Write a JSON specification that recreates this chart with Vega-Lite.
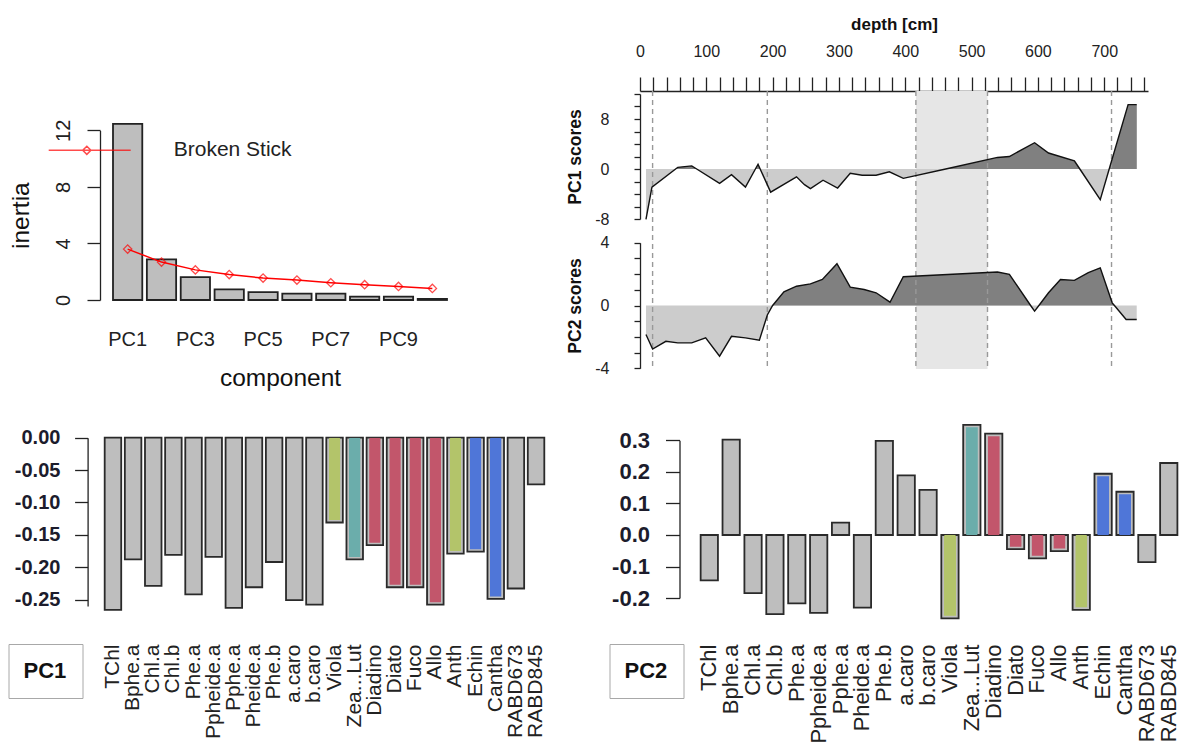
{
  "$schema": "https://vega.github.io/schema/vega-lite/v6.json",
  "background": "white",
  "padding": {"left": 7, "top": 15, "right": 0, "bottom": 0},
  "columns": 2,
  "align": "each",
  "bounds": "flush",
  "spacing": {"row": 54, "column": 91},
  "resolve": {
    "scale": {"shape": "independent", "color": "independent"},
    "legend": {"shape": "independent", "color": "independent"}
  },
  "datasets": {
    "scree": [
      {"component": "PC1", "inertia": 12.45, "bstick": 3.6},
      {"component": "PC2", "inertia": 2.87, "bstick": 2.68},
      {"component": "PC3", "inertia": 1.62, "bstick": 2.13},
      {"component": "PC4", "inertia": 0.75, "bstick": 1.8},
      {"component": "PC5", "inertia": 0.56, "bstick": 1.55},
      {"component": "PC6", "inertia": 0.45, "bstick": 1.41},
      {"component": "PC7", "inertia": 0.45, "bstick": 1.22},
      {"component": "PC8", "inertia": 0.24, "bstick": 1.08},
      {"component": "PC9", "inertia": 0.24, "bstick": 0.96},
      {"component": "PC10", "inertia": 0.08, "bstick": 0.82}
    ],
    "load": [
      {"pigment": "TChl", "pc1": -0.266, "pc2": -0.144, "type": "other"},
      {"pigment": "Bphe.a", "pc1": -0.188, "pc2": 0.302, "type": "other"},
      {"pigment": "Chl.a", "pc1": -0.229, "pc2": -0.184, "type": "other"},
      {"pigment": "Chl.b", "pc1": -0.181, "pc2": -0.251, "type": "other"},
      {"pigment": "Phe.a", "pc1": -0.242, "pc2": -0.217, "type": "other"},
      {"pigment": "Ppheide.a", "pc1": -0.184, "pc2": -0.247, "type": "other"},
      {"pigment": "Pphe.a", "pc1": -0.263, "pc2": 0.039, "type": "other"},
      {"pigment": "Pheide.a", "pc1": -0.231, "pc2": -0.23, "type": "other"},
      {"pigment": "Phe.b", "pc1": -0.192, "pc2": 0.298, "type": "other"},
      {"pigment": "a.caro", "pc1": -0.251, "pc2": 0.189, "type": "other"},
      {"pigment": "b.caro", "pc1": -0.258, "pc2": 0.143, "type": "other"},
      {"pigment": "Viola", "pc1": -0.131, "pc2": -0.264, "type": "A"},
      {"pigment": "Zea...Lut", "pc1": -0.188, "pc2": 0.349, "type": "B"},
      {"pigment": "Diadino", "pc1": -0.166, "pc2": 0.321, "type": "C"},
      {"pigment": "Diato", "pc1": -0.231, "pc2": -0.045, "type": "C"},
      {"pigment": "Fuco", "pc1": -0.231, "pc2": -0.074, "type": "C"},
      {"pigment": "Allo", "pc1": -0.258, "pc2": -0.051, "type": "C"},
      {"pigment": "Anth", "pc1": -0.179, "pc2": -0.237, "type": "A"},
      {"pigment": "Echin", "pc1": -0.176, "pc2": 0.194, "type": "D"},
      {"pigment": "Cantha", "pc1": -0.249, "pc2": 0.137, "type": "D"},
      {"pigment": "RABD673", "pc1": -0.233, "pc2": -0.086, "type": "other"},
      {"pigment": "RABD845", "pc1": -0.072, "pc2": 0.228, "type": "other"}
    ],
    "pc1": [
      {"depth": 9, "score": -8.05}, {"depth": 18, "score": -2.9}, {"depth": 53.7, "score": 0},
      {"depth": 57, "score": 0.27}, {"depth": 78, "score": 0.5}, {"depth": 85.5, "score": 0},
      {"depth": 120, "score": -2.3}, {"depth": 138, "score": -0.9}, {"depth": 159, "score": -2.9},
      {"depth": 174, "score": 0}, {"depth": 178, "score": 0.76}, {"depth": 181.2, "score": 0},
      {"depth": 197, "score": -3.7}, {"depth": 236, "score": -1.25}, {"depth": 248, "score": -2.5},
      {"depth": 257, "score": -3.15}, {"depth": 276, "score": -1.8}, {"depth": 298, "score": -3.05},
      {"depth": 317, "score": -0.7}, {"depth": 335, "score": -1.0}, {"depth": 356, "score": -1.0},
      {"depth": 376, "score": -0.45}, {"depth": 397, "score": -1.5}, {"depth": 461, "score": 0},
      {"depth": 539, "score": 1.85}, {"depth": 557, "score": 2.0}, {"depth": 595, "score": 4.2},
      {"depth": 616, "score": 2.56}, {"depth": 655, "score": 1.3}, {"depth": 663.2, "score": 0},
      {"depth": 694, "score": -4.9}, {"depth": 707.5, "score": 0}, {"depth": 736, "score": 10.3},
      {"depth": 749, "score": 10.3}
    ],
    "pc2": [
      {"depth": 9, "score": -1.85}, {"depth": 19, "score": -2.77}, {"depth": 39, "score": -2.28},
      {"depth": 57, "score": -2.38}, {"depth": 78, "score": -2.38}, {"depth": 99, "score": -2.06},
      {"depth": 120, "score": -3.23}, {"depth": 138, "score": -1.96}, {"depth": 159, "score": -2.06},
      {"depth": 180, "score": -2.21}, {"depth": 192, "score": -0.6}, {"depth": 200, "score": 0},
      {"depth": 217, "score": 0.87}, {"depth": 236, "score": 1.23}, {"depth": 257, "score": 1.38},
      {"depth": 275, "score": 1.66}, {"depth": 297, "score": 2.66}, {"depth": 317, "score": 1.17},
      {"depth": 338, "score": 1.02}, {"depth": 356, "score": 0.81}, {"depth": 377, "score": 0.21},
      {"depth": 397, "score": 1.83}, {"depth": 539, "score": 2.13}, {"depth": 557, "score": 1.98},
      {"depth": 589, "score": 0}, {"depth": 595, "score": -0.36}, {"depth": 601.5, "score": 0},
      {"depth": 616, "score": 0.81}, {"depth": 634, "score": 1.66}, {"depth": 655, "score": 1.6},
      {"depth": 676, "score": 2.09}, {"depth": 694, "score": 2.4}, {"depth": 712, "score": 0.17},
      {"depth": 715.4, "score": 0}, {"depth": 733, "score": -0.89}, {"depth": 749, "score": -0.89}
    ],
    "hiatus": [{"from": 416, "to": 524}],
    "bounds": [{"depth": 19}, {"depth": 192}, {"depth": 416}, {"depth": 524}, {"depth": 711}]
  },
  "concat": [
    {
      "width": 360,
      "height": 209,
      "data": {"name": "scree"},
      "layer": [
        {
          "mark": {"type": "bar", "fill": "#bebebe", "stroke": "#222222", "strokeWidth": 1.8},
          "encoding": {
            "x": {
              "field": "component", "type": "nominal", "sort": null,
              "scale": {"paddingInner": 0.135, "paddingOuter": 0.384},
              "axis": {
                "values": ["PC1", "PC3", "PC5", "PC7", "PC9"], "labelAngle": 0,
                "domain": false, "ticks": false, "tickSize": 0, "labelPadding": 29.5,
                "labelFontSize": 20, "title": "component", "titleFontSize": 24.5,
                "titleFontWeight": "normal", "titlePadding": 17
              }
            },
            "y": {
              "field": "inertia", "type": "quantitative",
              "scale": {"domain": [0, 12], "range": [209, 39.3]},
              "axis": {
                "values": [0, 2, 4, 6, 8, 10, 12],
                "labelExpr": "datum.value % 4 === 0 ? datum.label : ''",
                "labelAngle": 270, "labelAlign": "center", "labelBaseline": "alphabetic",
                "labelOverlap": false,
                "tickSize": 13, "labelPadding": 18, "labelFontSize": 20,
                "title": "inertia", "titleFontSize": 24.5, "titleFontWeight": "normal", "titlePadding": 20
              }
            }
          }
        },
        {
          "mark": {"type": "line", "strokeWidth": 1.5},
          "encoding": {
            "x": {"field": "component", "type": "nominal", "sort": null},
            "y": {"field": "bstick", "type": "quantitative"},
            "color": {
              "datum": "Broken Stick",
              "scale": {"domain": ["Broken Stick"], "range": ["#ff0000"]},
              "legend": {
                "orient": "none", "legendX": -52.3, "legendY": 17.3, "title": null, "padding": 0,
                "symbolType": "M-1,0L1,0M-0.07,-0.1L0.03,0L-0.07,0.1L-0.17,0Z",
                "symbolSize": 6724, "symbolStrokeWidth": 1.5, "symbolFillColor": "transparent",
                "labelFontSize": 21, "labelOffset": 42, "labelColor": "#222222", "labelLimit": 300
              }
            }
          }
        },
        {
          "mark": {"type": "point", "shape": "diamond", "filled": false, "size": 70, "strokeWidth": 1.3},
          "encoding": {
            "x": {"field": "component", "type": "nominal", "sort": null},
            "y": {"field": "bstick", "type": "quantitative"},
            "color": {"datum": "Broken Stick"}
          }
        }
      ]
    },
    {
      "width": 508,
      "height": 278,
      "resolve": {"scale": {"y": "independent"}, "axis": {"y": "independent"}},
      "layer": [
        {
          "data": {"name": "hiatus"},
          "mark": {"type": "rect", "color": "#e6e6e6"},
          "encoding": {
            "x": {
              "field": "from", "type": "quantitative", "scale": {"domain": [0, 766], "nice": false, "zero": false},
              "axis": {"orient": "top", "values": [0, 20, 40, 60, 80, 100, 120, 140, 160, 180, 200, 220, 240, 260, 280, 300, 320, 340, 360, 380, 400, 420, 440, 460, 480, 500, 520, 540, 560, 580, 600, 620, 640, 660, 680, 700, 720, 740, 760], "labelExpr": "datum.value % 100 === 0 ? datum.label : ''", "labelOverlap": false, "tickSize": 14, "labelPadding": 18, "labelFontSize": 16, "title": "depth [cm]", "titleFontSize": 17, "titleFontWeight": "bold", "titlePadding": 10}
            },
            "x2": {"field": "to"}
          }
        },
        {
          "data": {"name": "pc1"},
          "mark": {"type": "area", "color": "#cccccc"},
          "encoding": {
            "x": {
              "field": "depth", "type": "quantitative", "scale": {"domain": [0, 766], "nice": false, "zero": false},
              "axis": {"orient": "top", "values": [0, 20, 40, 60, 80, 100, 120, 140, 160, 180, 200, 220, 240, 260, 280, 300, 320, 340, 360, 380, 400, 420, 440, 460, 480, 500, 520, 540, 560, 580, 600, 620, 640, 660, 680, 700, 720, 740, 760], "labelExpr": "datum.value % 100 === 0 ? datum.label : ''", "labelOverlap": false, "tickSize": 14, "labelPadding": 18, "labelFontSize": 16, "title": "depth [cm]", "titleFontSize": 17, "titleFontWeight": "bold", "titlePadding": 10}
            },
            "y": {"field": "score", "type": "quantitative", "scale": {"domain": [-8, 12], "range": [128, 3]}, "axis": null},
            "y2": {"datum": 0}
          }
        },
        {
          "data": {"name": "pc1"},
          "mark": {"type": "area", "color": "#808080"},
          "encoding": {
            "x": {
              "field": "depth", "type": "quantitative", "scale": {"domain": [0, 766], "nice": false, "zero": false},
              "axis": {"orient": "top", "values": [0, 20, 40, 60, 80, 100, 120, 140, 160, 180, 200, 220, 240, 260, 280, 300, 320, 340, 360, 380, 400, 420, 440, 460, 480, 500, 520, 540, 560, 580, 600, 620, 640, 660, 680, 700, 720, 740, 760], "labelExpr": "datum.value % 100 === 0 ? datum.label : ''", "labelOverlap": false, "tickSize": 14, "labelPadding": 18, "labelFontSize": 16, "title": "depth [cm]", "titleFontSize": 17, "titleFontWeight": "bold", "titlePadding": 10}
            },
            "y": {"field": "score", "type": "quantitative", "scale": {"domain": [0, 12], "range": [78, 3], "clamp": true}, "axis": null},
            "y2": {"datum": 0}
          }
        },
        {
          "data": {"name": "pc2"},
          "mark": {"type": "area", "color": "#cccccc"},
          "encoding": {
            "x": {
              "field": "depth", "type": "quantitative", "scale": {"domain": [0, 766], "nice": false, "zero": false},
              "axis": {"orient": "top", "values": [0, 20, 40, 60, 80, 100, 120, 140, 160, 180, 200, 220, 240, 260, 280, 300, 320, 340, 360, 380, 400, 420, 440, 460, 480, 500, 520, 540, 560, 580, 600, 620, 640, 660, 680, 700, 720, 740, 760], "labelExpr": "datum.value % 100 === 0 ? datum.label : ''", "labelOverlap": false, "tickSize": 14, "labelPadding": 18, "labelFontSize": 16, "title": "depth [cm]", "titleFontSize": 17, "titleFontWeight": "bold", "titlePadding": 10}
            },
            "y": {"field": "score", "type": "quantitative", "scale": {"domain": [-4, 4], "range": [277.3, 151.7]}, "axis": null},
            "y2": {"datum": 0}
          }
        },
        {
          "data": {"name": "pc2"},
          "mark": {"type": "area", "color": "#808080"},
          "encoding": {
            "x": {
              "field": "depth", "type": "quantitative", "scale": {"domain": [0, 766], "nice": false, "zero": false},
              "axis": {"orient": "top", "values": [0, 20, 40, 60, 80, 100, 120, 140, 160, 180, 200, 220, 240, 260, 280, 300, 320, 340, 360, 380, 400, 420, 440, 460, 480, 500, 520, 540, 560, 580, 600, 620, 640, 660, 680, 700, 720, 740, 760], "labelExpr": "datum.value % 100 === 0 ? datum.label : ''", "labelOverlap": false, "tickSize": 14, "labelPadding": 18, "labelFontSize": 16, "title": "depth [cm]", "titleFontSize": 17, "titleFontWeight": "bold", "titlePadding": 10}
            },
            "y": {"field": "score", "type": "quantitative", "scale": {"domain": [0, 4], "range": [214.5, 151.7], "clamp": true}, "axis": null},
            "y2": {"datum": 0}
          }
        },
        {
          "data": {"name": "bounds"},
          "mark": {"type": "rule", "strokeDash": [5, 4], "color": "#999999", "strokeWidth": 1.4},
          "encoding": {
            "x": {
              "field": "depth", "type": "quantitative", "scale": {"domain": [0, 766], "nice": false, "zero": false},
              "axis": {"orient": "top", "values": [0, 20, 40, 60, 80, 100, 120, 140, 160, 180, 200, 220, 240, 260, 280, 300, 320, 340, 360, 380, 400, 420, 440, 460, 480, 500, 520, 540, 560, 580, 600, 620, 640, 660, 680, 700, 720, 740, 760], "labelExpr": "datum.value % 100 === 0 ? datum.label : ''", "labelOverlap": false, "tickSize": 14, "labelPadding": 18, "labelFontSize": 16, "title": "depth [cm]", "titleFontSize": 17, "titleFontWeight": "bold", "titlePadding": 10}
            }
          }
        },
        {
          "data": {"name": "pc1"},
          "mark": {"type": "line", "color": "#111111", "strokeWidth": 1.4},
          "encoding": {
            "x": {
              "field": "depth", "type": "quantitative", "scale": {"domain": [0, 766], "nice": false, "zero": false},
              "axis": {"orient": "top", "values": [0, 20, 40, 60, 80, 100, 120, 140, 160, 180, 200, 220, 240, 260, 280, 300, 320, 340, 360, 380, 400, 420, 440, 460, 480, 500, 520, 540, 560, 580, 600, 620, 640, 660, 680, 700, 720, 740, 760], "labelExpr": "datum.value % 100 === 0 ? datum.label : ''", "labelOverlap": false, "tickSize": 14, "labelPadding": 18, "labelFontSize": 16, "title": "depth [cm]", "titleFontSize": 17, "titleFontWeight": "bold", "titlePadding": 10}
            },
            "y": {
              "field": "score", "type": "quantitative", "scale": {"domain": [-8, 12], "range": [128, 3]},
              "axis": {
                "orient": "left", "values": [-8, -6, -4, -2, 0, 2, 4, 6, 8, 10, 12],
                "labelExpr": "datum.value % 8 === 0 ? replace(datum.label, '−', '-') : ''",
                "labelOverlap": false,
                "tickSize": 6, "labelPadding": 25, "labelFontSize": 16,
                "title": "PC1 scores", "titleFontSize": 17.5, "titleFontWeight": "bold", "titlePadding": 10
              }
            }
          }
        },
        {
          "data": {"name": "pc2"},
          "mark": {"type": "line", "color": "#111111", "strokeWidth": 1.4},
          "encoding": {
            "x": {
              "field": "depth", "type": "quantitative", "scale": {"domain": [0, 766], "nice": false, "zero": false},
              "axis": {"orient": "top", "values": [0, 20, 40, 60, 80, 100, 120, 140, 160, 180, 200, 220, 240, 260, 280, 300, 320, 340, 360, 380, 400, 420, 440, 460, 480, 500, 520, 540, 560, 580, 600, 620, 640, 660, 680, 700, 720, 740, 760], "labelExpr": "datum.value % 100 === 0 ? datum.label : ''", "labelOverlap": false, "tickSize": 14, "labelPadding": 18, "labelFontSize": 16, "title": "depth [cm]", "titleFontSize": 17, "titleFontWeight": "bold", "titlePadding": 10}
            },
            "y": {
              "field": "score", "type": "quantitative", "scale": {"domain": [-4, 4], "range": [277.3, 151.7]},
              "axis": {
                "orient": "left", "values": [-4, -3, -2, -1, 0, 1, 2, 3, 4],
                "labelExpr": "datum.value % 4 === 0 ? replace(datum.label, '−', '-') : ''",
                "labelOverlap": false,
                "tickSize": 6, "labelPadding": 25, "labelFontSize": 16,
                "title": "PC2 scores", "titleFontSize": 17.5, "titleFontWeight": "bold", "titlePadding": 10
              }
            }
          }
        }
      ]
    },
    {
      "width": 449,
      "height": 197,
      "data": {"name": "load"},
      "layer": [
        {
          "mark": {"type": "bar", "fill": "#bebebe", "stroke": "#2a2a2a", "strokeWidth": 1.8},
          "encoding": {
            "x": {
              "field": "pigment", "type": "nominal", "sort": null,
              "scale": {"paddingInner": 0.18, "paddingOuter": 0.233},
              "axis": {"labelAngle": 270, "labelFontSize": 21, "labelPadding": 24, "domain": false, "ticks": false, "tickSize": 0, "title": null}
            },
            "y": {
              "field": "pc1", "type": "quantitative",
              "scale": {"domain": [-0.25, 0], "range": [183, 14.7]},
              "axis": {"values": [0, -0.05, -0.1, -0.15, -0.2, -0.25], "labelExpr": "replace(format(datum.value, '.2f'), '−', '-')", "labelOverlap": false, "labelSeparation": 0, "offset": 12.4, "tickSize": 13, "labelPadding": 14.7, "labelFontSize": 20, "labelFontWeight": "bold", "labelColor": "#1c1c2c", "title": null}
            }
          }
        },
        {
          "transform": [{"filter": "datum.type !== 'other'"}],
          "mark": {"type": "bar", "width": {"band": 0.7}, "yOffset": -2.5, "y2Offset": 2.5, "cornerRadius": 1.5},
          "encoding": {
            "x": {
              "field": "pigment", "type": "nominal", "sort": null,
              "axis": {"labelAngle": 270, "labelFontSize": 21, "labelPadding": 24, "domain": false, "ticks": false, "tickSize": 0, "title": null}
            },
            "y": {
              "field": "pc1", "type": "quantitative",
              "axis": {"values": [0, -0.05, -0.1, -0.15, -0.2, -0.25], "labelExpr": "replace(format(datum.value, '.2f'), '−', '-')", "labelOverlap": false, "labelSeparation": 0, "offset": 12.4, "tickSize": 13, "labelPadding": 14.7, "labelFontSize": 20, "labelFontWeight": "bold", "labelColor": "#1c1c2c", "title": null}
            },
            "fill": {
              "field": "type", "type": "nominal",
              "scale": {"domain": ["A", "B", "C", "D"], "range": ["#b3c46a", "#6badab", "#c2566b", "#4f76d8"]},
              "legend": null
            }
          }
        },
        {
          "mark": {"type": "point", "opacity": 0},
          "encoding": {
            "x": {
              "field": "pigment", "type": "nominal", "sort": null,
              "axis": {"labelAngle": 270, "labelFontSize": 21, "labelPadding": 24, "domain": false, "ticks": false, "tickSize": 0, "title": null}
            },
            "y": {
              "field": "pc1", "type": "quantitative",
              "axis": {"values": [0, -0.05, -0.1, -0.15, -0.2, -0.25], "labelExpr": "replace(format(datum.value, '.2f'), '−', '-')", "labelOverlap": false, "labelSeparation": 0, "offset": 12.4, "tickSize": 13, "labelPadding": 14.7, "labelFontSize": 20, "labelFontWeight": "bold", "labelColor": "#1c1c2c", "title": null}
            },
            "shape": {
              "datum": "PC1",
              "legend": {
                "orient": "none", "legendX": -91.5, "legendY": 221, "title": null,
                "padding": 16, "strokeColor": "#a8a8a8",
                "symbolSize": 0, "symbolOpacity": 0, "labelOffset": -23,
                "labelFontSize": 22, "labelFontWeight": "bold", "labelColor": "#111111"
              }
            }
          }
        }
      ]
    },
    {
      "width": 537,
      "height": 197,
      "data": {"name": "load"},
      "layer": [
        {
          "mark": {"type": "bar", "fill": "#bebebe", "stroke": "#2a2a2a", "strokeWidth": 1.8},
          "encoding": {
            "x": {
              "field": "pigment", "type": "nominal", "sort": null,
              "scale": {"range": [60.65, 537.4], "paddingInner": 0.21, "paddingOuter": 0},
              "axis": {"labelAngle": 270, "labelFontSize": 22, "labelPadding": 24, "domain": false, "ticks": false, "tickSize": 0, "title": null}
            },
            "y": {
              "field": "pc2", "type": "quantitative",
              "scale": {"domain": [-0.2, 0.3], "range": [175.1, 17.3]},
              "axis": {"values": [-0.2, -0.1, 0, 0.1, 0.2, 0.3], "labelExpr": "replace(format(datum.value, '.1f'), '−', '-')", "labelOverlap": false, "labelSeparation": 0, "offset": -39.5, "tickSize": 14, "labelPadding": 16, "labelFontSize": 22, "labelFontWeight": "bold", "labelColor": "#1c1c2c", "title": null}
            }
          }
        },
        {
          "transform": [{"filter": "datum.type !== 'other' && datum.pc2 < 0"}],
          "mark": {"type": "bar", "width": {"band": 0.7}, "yOffset": -2.5, "y2Offset": 2.5, "cornerRadius": 1.5},
          "encoding": {
            "x": {
              "field": "pigment", "type": "nominal", "sort": null,
              "axis": {"labelAngle": 270, "labelFontSize": 22, "labelPadding": 24, "domain": false, "ticks": false, "tickSize": 0, "title": null}
            },
            "y": {
              "field": "pc2", "type": "quantitative",
              "axis": {"values": [-0.2, -0.1, 0, 0.1, 0.2, 0.3], "labelExpr": "replace(format(datum.value, '.1f'), '−', '-')", "labelOverlap": false, "labelSeparation": 0, "offset": -39.5, "tickSize": 14, "labelPadding": 16, "labelFontSize": 22, "labelFontWeight": "bold", "labelColor": "#1c1c2c", "title": null}
            },
            "fill": {
              "field": "type", "type": "nominal",
              "scale": {"domain": ["A", "B", "C", "D"], "range": ["#b3c46a", "#6badab", "#c2566b", "#4f76d8"]},
              "legend": null
            }
          }
        },
        {
          "transform": [{"filter": "datum.type !== 'other' && datum.pc2 >= 0"}],
          "mark": {"type": "bar", "width": {"band": 0.7}, "yOffset": 2.5, "y2Offset": -2.5, "cornerRadius": 1.5},
          "encoding": {
            "x": {
              "field": "pigment", "type": "nominal", "sort": null,
              "axis": {"labelAngle": 270, "labelFontSize": 22, "labelPadding": 24, "domain": false, "ticks": false, "tickSize": 0, "title": null}
            },
            "y": {
              "field": "pc2", "type": "quantitative",
              "axis": {"values": [-0.2, -0.1, 0, 0.1, 0.2, 0.3], "labelExpr": "replace(format(datum.value, '.1f'), '−', '-')", "labelOverlap": false, "labelSeparation": 0, "offset": -39.5, "tickSize": 14, "labelPadding": 16, "labelFontSize": 22, "labelFontWeight": "bold", "labelColor": "#1c1c2c", "title": null}
            },
            "fill": {
              "field": "type", "type": "nominal",
              "scale": {"domain": ["A", "B", "C", "D"], "range": ["#b3c46a", "#6badab", "#c2566b", "#4f76d8"]},
              "legend": null
            }
          }
        },
        {
          "mark": {"type": "point", "opacity": 0},
          "encoding": {
            "x": {
              "field": "pigment", "type": "nominal", "sort": null,
              "axis": {"labelAngle": 270, "labelFontSize": 22, "labelPadding": 24, "domain": false, "ticks": false, "tickSize": 0, "title": null}
            },
            "y": {
              "field": "pc2", "type": "quantitative",
              "axis": {"values": [-0.2, -0.1, 0, 0.1, 0.2, 0.3], "labelExpr": "replace(format(datum.value, '.1f'), '−', '-')", "labelOverlap": false, "labelSeparation": 0, "offset": -39.5, "tickSize": 14, "labelPadding": 16, "labelFontSize": 22, "labelFontWeight": "bold", "labelColor": "#1c1c2c", "title": null}
            },
            "shape": {
              "datum": "PC2",
              "legend": {
                "orient": "none", "legendX": -30.5, "legendY": 221, "title": null,
                "padding": 16, "strokeColor": "#a8a8a8",
                "symbolSize": 0, "symbolOpacity": 0, "labelOffset": -23,
                "labelFontSize": 22, "labelFontWeight": "bold", "labelColor": "#111111"
              }
            }
          }
        }
      ]
    }
  ],
  "config": {
    "view": {"stroke": null},
    "font": "Liberation Sans",
    "axis": {
      "labelFlush": false, "labelOverlap": false, "grid": false,
      "domainColor": "#222222", "tickColor": "#222222", "labelColor": "#222222", "titleColor": "#111111",
      "domainWidth": 1.3, "tickWidth": 1.3, "labelFont": "Liberation Sans", "titleFont": "Liberation Sans"
    },
    "legend": {"labelFont": "Liberation Sans"}
  }
}
